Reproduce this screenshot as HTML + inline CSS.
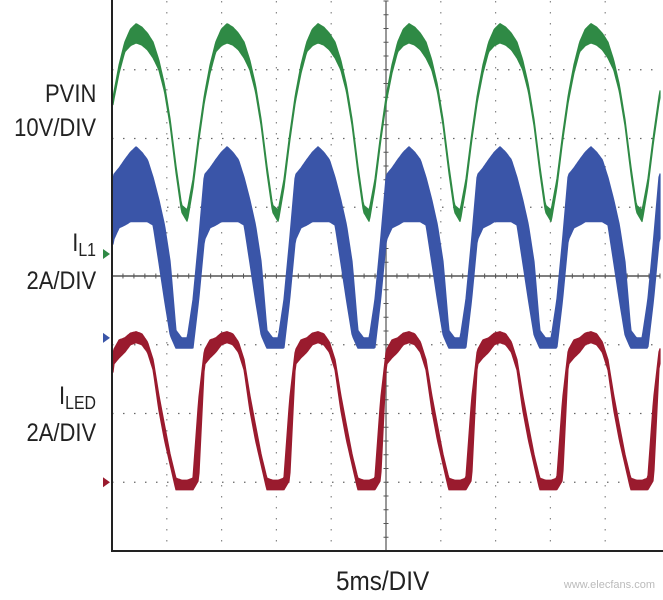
<!DOCTYPE html>
<html><head><meta charset="utf-8"><style>
body{margin:0;background:#fff;width:663px;height:600px;overflow:hidden;font-family:"Liberation Sans",sans-serif}
.lbl{position:absolute;font-size:25px;color:#222;transform:scaleX(0.88);transform-origin:right top;text-align:right;right:567px;white-space:nowrap}
sub{font-size:18px;vertical-align:-5px}
</style></head><body>
<svg id="scope" width="663" height="600" style="position:absolute;left:0;top:0"></svg>
<div class="lbl" style="top:80px">PVIN</div>
<div class="lbl" style="top:114px">10V/DIV</div>
<div class="lbl" style="top:229px">I<sub>L1</sub></div>
<div class="lbl" style="top:267px">2A/DIV</div>
<div class="lbl" style="top:382px">I<sub>LED</sub></div>
<div class="lbl" style="top:419px">2A/DIV</div>
<div style="position:absolute;left:336px;top:566px;font-size:27px;color:#222;transform:scaleX(0.9);transform-origin:left top">5ms/DIV</div>
<script>
// one period of each waveform, in divisions above the bottom graticule line (16 phase samples, phase 0 = peak)
const greenUpper=[7.67,7.62,7.53,7.40,7.14,6.78,6.27,5.61,5.03,4.96,5.40,6.05,6.63,7.07,7.40,7.59];
const greenLower=[7.39,7.36,7.29,7.17,7.00,6.68,6.18,5.51,4.93,4.79,5.28,5.95,6.53,6.95,7.26,7.35];
const blueUpper=[5.88,5.80,5.69,5.43,5.11,4.74,4.20,3.21,3.10,3.10,3.65,4.52,5.47,5.57,5.69,5.80];
const blueLower=[4.79,4.79,4.79,4.74,4.20,3.65,3.14,2.95,2.95,2.95,2.95,3.65,4.52,4.70,4.74,4.79];
const redUpper=[3.19,3.16,3.04,2.78,2.27,1.83,1.40,1.06,1.03,1.03,1.06,2.20,2.92,3.07,3.10,3.17];
const redLower=[3.03,3.00,2.89,2.63,2.05,1.61,1.25,0.89,0.89,0.89,0.89,1.03,2.71,2.81,2.89,3.00];
const periodDiv=1.66, firstPeakDiv=0.44;
const markerLevels=[4.32,3.1,1.0];

const NS="http://www.w3.org/2000/svg";
const svg=document.getElementById('scope');
const L=112,R=660,T=1,B=551,DX=(R-L)/10,DY=(B-T)/8;
const xS=d=>L+d*DX, yS=v=>B-v*DY;
function mk(t,a){const e=document.createElementNS(NS,t);for(const k in a)e.setAttribute(k,a[k]);svg.appendChild(e);return e;}
for(let i=1;i<10;i++){if(i==5)continue;const g=mk('line',{x1:xS(i),x2:xS(i),y1:T,y2:B,stroke:'#888','stroke-width':1.2,'stroke-dasharray':'1.5 9.5'});

}
for(let j=1;j<8;j++){if(j==4)continue;const g=mk('line',{x1:L,x2:R,y1:yS(j),y2:yS(j),stroke:'#666','stroke-width':1.2,'stroke-dasharray':'1.5 9.5'});

}
const ax1=mk('line',{x1:xS(5),x2:xS(5),y1:T,y2:B,stroke:'#777','stroke-width':1.5});


const ax2=mk('line',{x1:L,x2:R,y1:yS(4),y2:yS(4),stroke:'#555','stroke-width':1.5});


for(let i=0;i<=50;i++){const x=L+i*DX/5;mk('line',{x1:x,x2:x,y1:yS(4)-2.5,y2:yS(4)+2.5,stroke:'#555','stroke-width':1});}
for(let j=0;j<=40;j++){const y=T+j*DY/5;mk('line',{x1:xS(5)-2.5,x2:xS(5)+2.5,y1:y,y2:y,stroke:'#555','stroke-width':1});}
function sample(arr,d){let p=((d-firstPeakDiv)/periodDiv)%1;if(p<0)p+=1;const f=p*arr.length,i=Math.floor(f),t=f-i;return arr[i%arr.length]*(1-t)+arr[(i+1)%arr.length]*t;}
function band(up,lo,color,name){let top=[],bot=[];for(let x=L+1;x<=R;x++){const d=(x-L)/DX;top.push(x+','+yS(sample(up,d)).toFixed(1));bot.unshift(x+','+yS(sample(lo,d)).toFixed(1));}
const p=mk('polygon',{points:top.concat(bot).join(' '),fill:color,stroke:color,'stroke-width':1.2,'stroke-linejoin':'round'});

}
band(greenUpper,greenLower,'#2f8a45','pvin-trace');
band(blueUpper,blueLower,'#3a55a8','il1-trace');
band(redUpper,redLower,'#9a1b2e','iled-trace');
const border=mk('rect',{x:L,y:-2,width:R-L+10,height:B+2,fill:'none',stroke:'#222','stroke-width':2});


const mcols=['#2f8a45','#3a55a8','#9a1b2e'],mnames=['pvin-ground-marker','il1-ground-marker','iled-ground-marker'];
markerLevels.forEach((v,i)=>{const y=yS(v);const m=mk('polygon',{points:`103,${y-5} 110,${y} 103,${y+5}`,fill:mcols[i]});

});
const wm=mk('text',{x:655,y:588,'text-anchor':'end','font-size':11,fill:'#bbb','font-family':'Liberation Sans, sans-serif'});
wm.textContent='www.elecfans.com';


</script>
</body></html>
